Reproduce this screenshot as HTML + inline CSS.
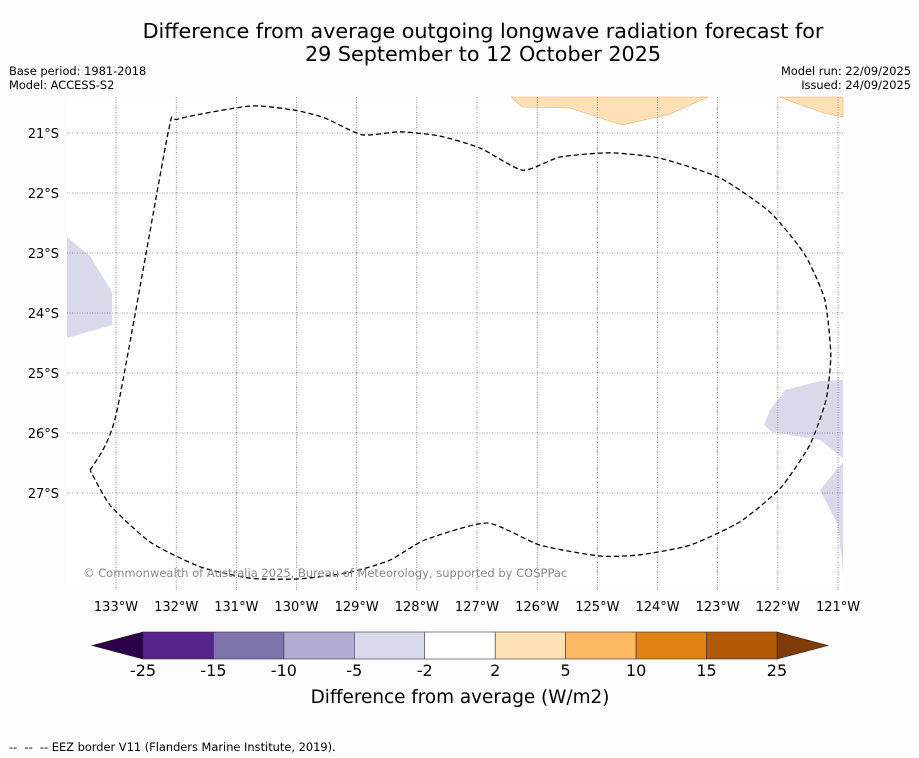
<!DOCTYPE html>
<html><head><meta charset="utf-8"><style>
body{margin:0;background:#fff;font-family:"DejaVu Sans","Liberation Sans",sans-serif}
svg{display:block}
</style></head><body>
<svg width="919" height="758" viewBox="0 0 919 758" font-family="DejaVu Sans, Liberation Sans, sans-serif">
<rect width="919" height="758" fill="#fdfdfd"/>
<text x="483" y="38" font-size="20.7" text-anchor="middle">Difference from average outgoing longwave radiation forecast for</text>
<text x="483" y="61" font-size="20.7" text-anchor="middle">29 September to 12 October 2025</text>
<text x="9" y="75" font-size="11.4">Base period: 1981-2018</text>
<text x="9" y="89" font-size="11.4">Model: ACCESS-S2</text>
<text x="911" y="75" font-size="11.4" text-anchor="end">Model run: 22/09/2025</text>
<text x="911" y="89" font-size="11.4" text-anchor="end">Issued: 24/09/2025</text>
<g id="map">
<rect x="67" y="97" width="776" height="493" fill="#fff"/>
<polygon points="511,97 522,107 570,108 622,125 670,114 708,97" fill="#fee0b6" stroke="#e8b070" stroke-width="0.6"/>
<polygon points="779,97 824,113 843,117 843,97" fill="#fee0b6" stroke="#e8b070" stroke-width="0.6"/>
<polygon points="67,237 90,256 112,292 112,325 67,338" fill="#d8daeb"/>
<polygon points="843,380 820,381 785,390 770,410 764,425 772,432 820,440 843,458" fill="#d8daeb"/>
<polygon points="843,462 820,490 838,525 843,572" fill="#d8daeb"/>
<g id="grid"></g>
<path id="eez" fill="none" stroke="#000" stroke-width="1.3" stroke-dasharray="5,3"/>
<text x="83" y="577" font-size="11.5" fill="#888">© Commonwealth of Australia 2025, Bureau of Meteorology, supported by COSPPac</text>
</g>
<g id="xlabels"></g>
<g id="ylabels"></g>
<g id="cbar"></g>
<text x="460" y="703" font-size="18.4" text-anchor="middle">Difference from average (W/m2)</text>
<text x="9" y="751" font-size="11.4" xml:space="preserve">--  --  -- EEZ border V11 (Flanders Marine Institute, 2019).</text>
</svg>
<script>
const lonTicks=[-133,-132,-131,-130,-129,-128,-127,-126,-125,-124,-123,-122,-121];
const latTicks=[-21,-22,-23,-24,-25,-26,-27];
const eezLon=[-133.43,-133.0,-132.14,-131.97,-130.77,-130.03,-129.53,-128.91,-128.28,-127.62,-126.95,-126.24,-125.62,-124.79,-123.96,-122.96,-122.13,-121.55,-121.22,-121.12,-121.2,-121.47,-121.96,-122.63,-123.46,-124.29,-124.96,-125.95,-126.83,-127.86,-128.45,-129.11,-129.94,-130.77,-131.6,-132.43,-133.1,-133.43];
const eezLat=[-26.62,-25.7,-21.03,-20.77,-20.55,-20.62,-20.75,-21.03,-20.98,-21.05,-21.25,-21.62,-21.4,-21.33,-21.42,-21.75,-22.32,-23.03,-23.78,-24.7,-25.45,-26.2,-26.92,-27.48,-27.87,-28.03,-28.05,-27.87,-27.5,-27.78,-28.12,-28.32,-28.43,-28.42,-28.23,-27.82,-27.2,-26.62];
const cbarBounds=[-25,-15,-10,-5,-2,2,5,10,15,25];
const cbarColors=['#56258a','#8073ac','#b2abd2','#d8daeb','#ffffff','#fee0b6','#fdb863','#e08214','#b35806'];
const NS='http://www.w3.org/2000/svg';
const X=lon=>116+(lon+133)*60.17, Y=lat=>133+(-21-lat)*60;
function mk(t,a,p){const e=document.createElementNS(NS,t);for(const k in a)e.setAttribute(k,a[k]);p.appendChild(e);return e;}
const grid=document.getElementById('grid'),xl=document.getElementById('xlabels'),yl=document.getElementById('ylabels');
lonTicks.forEach(l=>{const x=X(l);
const g=mk('line',{x1:x,x2:x,y1:97,y2:590,stroke:'#555','stroke-width':0.6,'stroke-dasharray':'1,1.5'},grid);


const t=mk('text',{x:x,y:611,'font-size':13,'text-anchor':'middle'},xl);t.textContent=Math.abs(l)+'°W';

});
latTicks.forEach(l=>{const y=Y(l);
const g=mk('line',{x1:67,x2:843,y1:y,y2:y,stroke:'#555','stroke-width':0.6,'stroke-dasharray':'1,1.5'},grid);


const t=mk('text',{x:59,y:y+5,'font-size':13,'text-anchor':'end'},yl);t.textContent=Math.abs(l)+'°S';

});
// smooth closed path (Catmull-Rom)
(function(){const P=eezLon.map((l,i)=>[X(l),Y(eezLat[i])]);const n=P.length;let d='M'+P[0][0].toFixed(1)+','+P[0][1].toFixed(1);
for(let i=0;i<n-1;i++){const p0=P[Math.max(i-1,0)],p1=P[i],p2=P[i+1],p3=P[Math.min(i+2,n-1)];const k=1/6*0.6;
d+=` C${(p1[0]+(p2[0]-p0[0])*k).toFixed(1)},${(p1[1]+(p2[1]-p0[1])*k).toFixed(1)} ${(p2[0]-(p3[0]-p1[0])*k).toFixed(1)},${(p2[1]-(p3[1]-p1[1])*k).toFixed(1)} ${p2[0].toFixed(1)},${p2[1].toFixed(1)}`;}
document.getElementById('eez').setAttribute('d',d);})();
const cb=document.getElementById('cbar');
const C=i=>143+i*70.44;
mk('polygon',{points:`92,645.5 143,632 143,659`,fill:'#2d004b',stroke:'#222','stroke-width':0.6},cb);
mk('polygon',{points:`777,632 828,645.5 777,659`,fill:'#7f3b08',stroke:'#222','stroke-width':0.6},cb);
cbarColors.forEach((c,i)=>{const r=mk('rect',{x:C(i),y:632,width:70.44,height:27,fill:c,stroke:'#333','stroke-width':0.6},cb);

});
cbarBounds.forEach((b,i)=>{const t=mk('text',{x:C(i),y:676,'font-size':16,'text-anchor':'middle'},cb);t.textContent=b;

});
</script>
</body></html>
